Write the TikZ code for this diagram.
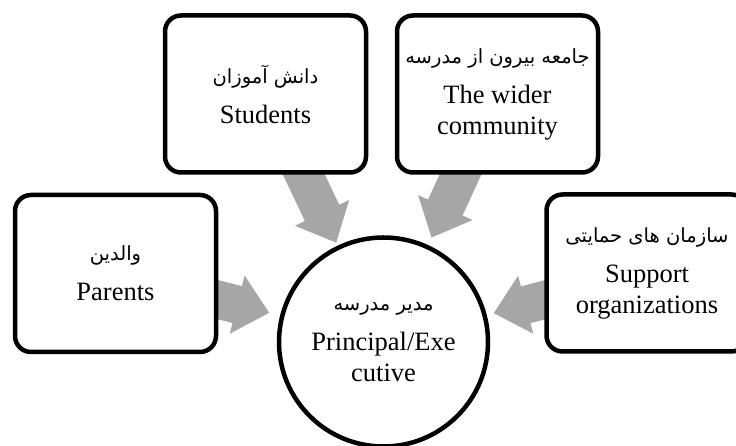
\documentclass[tikz,border=0pt]{standalone}
\usepackage{fontspec}
\setmainfont{Liberation Serif}
\newfontfamily\fafont[Script=Arabic]{DejaVu Sans}
\TeXXeTstate=1
\usetikzlibrary{calc,backgrounds}
\definecolor{arrgray}{RGB}{166,166,166}
\newcommand{\fatext}[1]{{\fafont\fontsize{19.5}{23}\selectfont\beginR #1\endR}}
\newcommand{\blockarr}[3]{%
  \coordinate (T) at ($(#2.center)!#3!(#1.center)$);
  \coordinate (H) at ($(T)!33pt!(#1.center)$);
  \fill[arrgray] ($(#1.center)!19pt!90:(T)$) -- ($(H)!19pt!90:(T)$) -- ($(H)!30pt!90:(T)$)
     -- (T) -- ($(H)!30pt!-90:(T)$) -- ($(H)!19pt!-90:(T)$) -- ($(#1.center)!19pt!-90:(T)$) -- cycle;
}
\tikzset{
  boxnode/.style={draw=black, line width=4.5pt, rounded corners=16pt, fill=white,
    minimum width=201pt, minimum height=157pt, align=center, inner sep=0pt,
    font=\fontsize{26.5}{31}\selectfont},
  mgrnode/.style={circle, draw=black, line width=4.5pt, fill=white, minimum size=209pt,
    align=center, inner sep=0pt, font=\fontsize{26.5}{31}\selectfont},
}
\begin{document}
\begin{tikzpicture}[x=1pt,y=1pt]
\useasboundingbox (0,0) rectangle (736,446);
\clip (0,0) rectangle (736,446);
\node[boxnode] (stu) at (265.5,352) {\fatext{دانش آموزان}\\[9pt]Students};
\node[boxnode] (com) at (497.5,352) {\fatext{جامعه بیرون از مدرسه}\\[9pt]The wider\\community};
\node[boxnode] (par) at (115.5,172.5) {\fatext{والدین}\\[9pt]Parents};
\node[boxnode] (sup) at (647,173) {\fatext{سازمان های حمایتی}\\[9pt]Support\\organizations};
\node[mgrnode] (mgr) at (383.5,104) {\fatext{مدیر مدرسه}\\[9pt]Principal/Exe\\cutive};
\begin{pgfonlayer}{background}
\blockarr{par}{mgr}{118pt}
\blockarr{stu}{mgr}{110pt}
\blockarr{com}{mgr}{115pt}
\blockarr{sup}{mgr}{114pt}
\end{pgfonlayer}
\end{tikzpicture}
\end{document}
